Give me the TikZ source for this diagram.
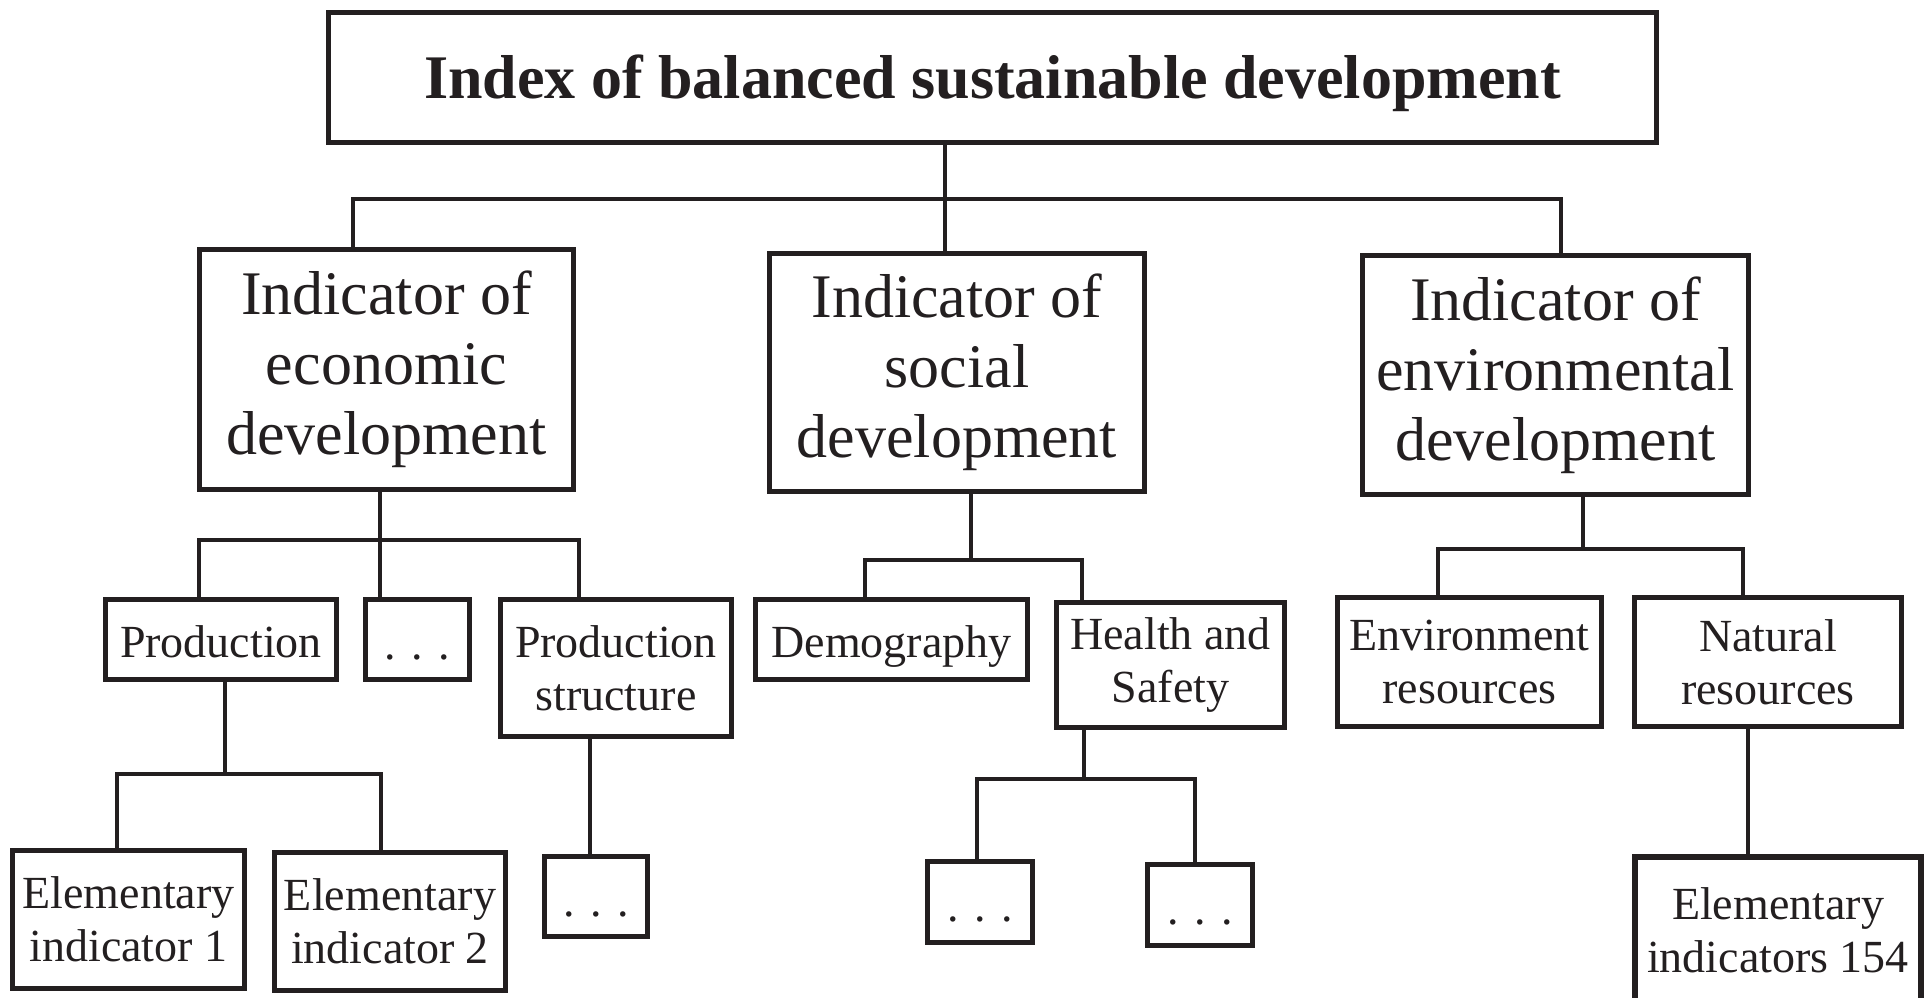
\documentclass[tikz,border=0pt]{standalone}
\usepackage{fontspec}
\setmainfont{Liberation Serif}
\definecolor{ink}{HTML}{231F20}
\newcommand{\mydots}{\strut\raisebox{-9pt}[0pt][0pt]{. . .}}
\begin{document}
\begin{tikzpicture}[x=1pt,y=-1pt,
  box/.style={draw=ink,line width=5.5pt,inner sep=0pt,align=center,text=ink},
  big/.style={box,font=\fontsize{62}{70}\selectfont},
  small/.style={box,font=\fontsize{46}{53}\selectfont},
  oneline/.style={text height=36pt,text depth=0pt},
  conn/.style={draw=ink,line width=4.7pt,line cap=rect}]
\useasboundingbox (0,0) rectangle (1927,997);
% nodes
\node[box,font=\fontsize{62}{70}\selectfont\bfseries,minimum width=1328,minimum height=130,text height=42pt,text depth=1pt] (top) at (992.5,77.5) {Index of balanced sustainable development};
\node[big,minimum width=374,minimum height=240] (econ) at (386.5,369.5) {Indicator of\\economic\\development};
\node[big,minimum width=375,minimum height=238] (social) at (957,372.5) {Indicator of\\social\\development};
\node[big,minimum width=386,minimum height=239] (env) at (1555.5,375) {Indicator of\\environmental\\development};
\node[small,oneline,minimum width=231,minimum height=80] (prod) at (221,639.5) {Production};
\node[small,minimum width=104,minimum height=80] (dotsA) at (417.5,639.5) {\mydots};
\node[small,minimum width=231,minimum height=137] (pstruct) at (616,668) {Production\\structure};
\node[small,oneline,minimum width=272,minimum height=80] (demo) at (891.5,639.5) {Demography};
\node[small,minimum width=228,minimum height=125] (health) at (1170.5,665) {Health and\\Safety};
\node[small,minimum width=264,minimum height=129] (envres) at (1469.5,662) {Environment\\resources};
\node[small,minimum width=267,minimum height=129] (natres) at (1768,662) {Natural\\resources};
\node[small,minimum width=232,minimum height=138] (elem1) at (128.5,919.5) {Elementary\\indicator 1};
\node[small,minimum width=231,minimum height=138] (elem2) at (390,921.5) {Elementary\\indicator 2};
\node[small,minimum width=103,minimum height=80] (dotsB) at (596,896.5) {\mydots};
\node[small,minimum width=105,minimum height=81] (dotsC) at (980,902) {\mydots};
\node[small,minimum width=105,minimum height=81] (dotsD) at (1200,905) {\mydots};
\node[small,minimum width=286,minimum height=146] (elem154) at (1778,930) {Elementary\\indicators 154};
% bar coordinates
\coordinate (t0) at (945,199);
\coordinate (t0L) at (353,199);
\coordinate (t0R) at (1561,199);
\coordinate (e0) at (380,540);
\coordinate (e0L) at (199,540);
\coordinate (e0R) at (579,540);
\coordinate (s0) at (971,560);
\coordinate (s0L) at (865,560);
\coordinate (s0R) at (1082,560);
\coordinate (v0) at (1583,549);
\coordinate (v0L) at (1438,549);
\coordinate (v0R) at (1743,549);
\coordinate (p0) at (225,774);
\coordinate (p0L) at (117,774);
\coordinate (p0R) at (381,774);
\coordinate (h0) at (1084,779);
\coordinate (h0L) at (977,779);
\coordinate (h0R) at (1195,779);
\coordinate (q0) at (590,0);
\coordinate (n0) at (1748,0);
% connectors
\draw[conn] (top.south -| t0) -- (social.north -| t0);
\draw[conn] (t0L) -- (t0R);
\draw[conn] (t0L) -- (econ.north -| t0L);
\draw[conn] (t0R) -- (env.north -| t0R);
\draw[conn] (econ.south -| e0) -- (dotsA.north -| e0);
\draw[conn] (e0L) -- (e0R);
\draw[conn] (e0L) -- (prod.north -| e0L);
\draw[conn] (e0R) -- (pstruct.north -| e0R);
\draw[conn] (social.south -| s0) -- (s0);
\draw[conn] (s0L) -- (s0R);
\draw[conn] (s0L) -- (demo.north -| s0L);
\draw[conn] (s0R) -- (health.north -| s0R);
\draw[conn] (env.south -| v0) -- (v0);
\draw[conn] (v0L) -- (v0R);
\draw[conn] (v0L) -- (envres.north -| v0L);
\draw[conn] (v0R) -- (natres.north -| v0R);
\draw[conn] (prod.south -| p0) -- (p0);
\draw[conn] (p0L) -- (p0R);
\draw[conn] (p0L) -- (elem1.north -| p0L);
\draw[conn] (p0R) -- (elem2.north -| p0R);
\draw[conn] (pstruct.south -| q0) -- (dotsB.north -| q0);
\draw[conn] (health.south -| h0) -- (h0);
\draw[conn] (h0L) -- (h0R);
\draw[conn] (h0L) -- (dotsC.north -| h0L);
\draw[conn] (h0R) -- (dotsD.north -| h0R);
\draw[conn] (natres.south -| n0) -- (elem154.north -| n0);
\end{tikzpicture}
\end{document}
